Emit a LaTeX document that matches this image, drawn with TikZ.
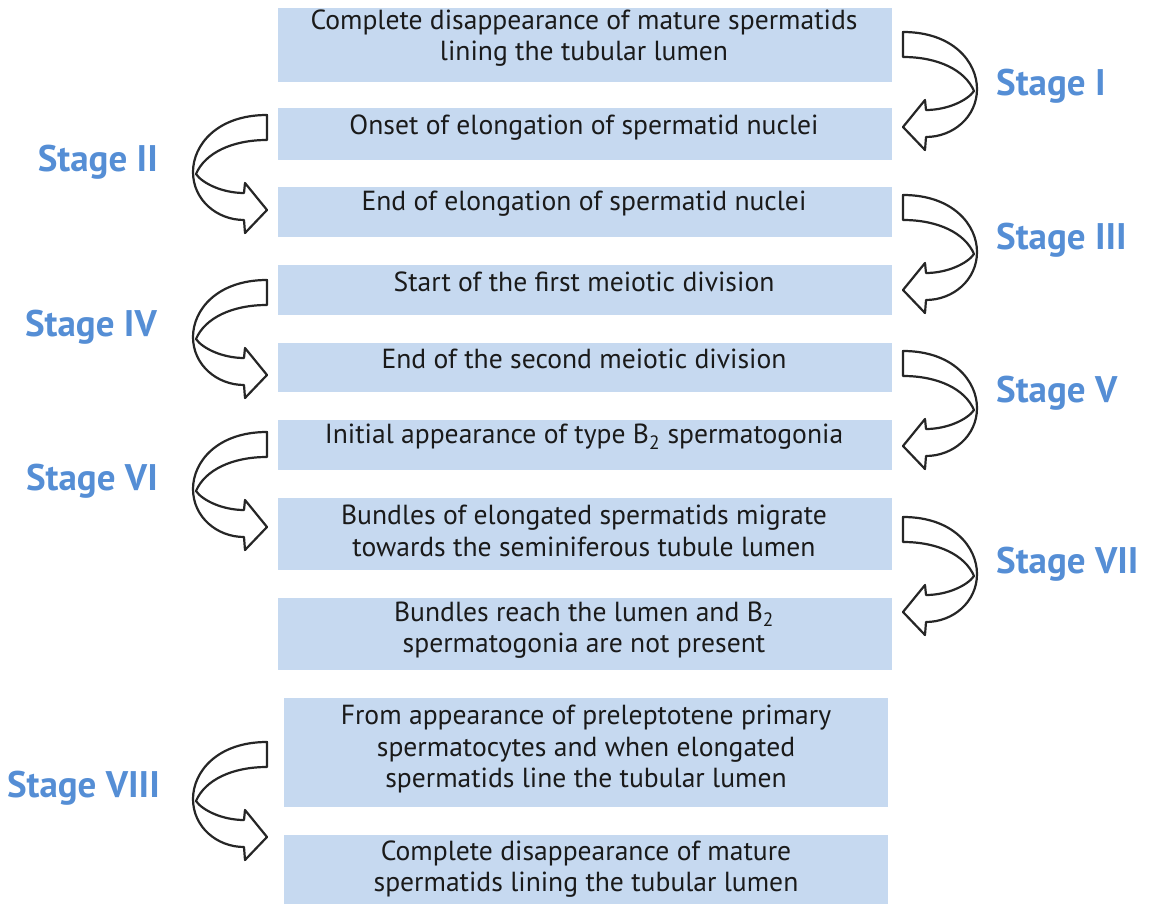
\documentclass[tikz,border=0pt]{standalone}
\usepackage{fontspec}
\setmainfont{PT Sans}
\usetikzlibrary{calc}
\definecolor{boxblue}{HTML}{C6D9F0}
\definecolor{stageblue}{HTML}{558ED5}
\definecolor{textdark}{HTML}{1A1A1A}
\tikzset{
  box/.style={fill=boxblue, draw=none, inner sep=0pt, anchor=north west},
  txt/.style={font=\fontsize{27.6}{31.5}\selectfont, text=textdark, align=center, inner sep=0pt},
  stagelbl/.style={font=\bfseries\fontsize{37}{37}\selectfont, text=stageblue, inner sep=0pt, text height=0.7em, text depth=0pt},
  arrline/.style={draw=black!85, line width=2.2pt, fill=white, line join=round},
  curvarr/.pic={
    \draw[arrline] (0,0) .. controls (50,0) and (74,30) .. (74,57)
      .. controls (74,85) and (50,105) .. (23,105) -- (22,118) -- (0,95) -- (22,68) -- (23,78)
      .. controls (45,78) and (65,68) .. (71,59)
      .. controls (62,38) and (35,25) .. (0,25) -- cycle;
  }
}
\begin{document}
\begin{tikzpicture}[x=1pt,y=-1pt]
\useasboundingbox (0,0) rectangle (1149,904);
% boxes
\node[box, minimum width=614pt, minimum height=74pt] (b1) at (278,8) {};
\node[box, minimum width=614pt, minimum height=52pt] (b2) at (278,108) {};
\node[box, minimum width=614pt, minimum height=50pt] (b3) at (278,187) {};
\node[box, minimum width=614pt, minimum height=50pt] (b4) at (278,265) {};
\node[box, minimum width=614pt, minimum height=49pt] (b5) at (278,343) {};
\node[box, minimum width=614pt, minimum height=50pt] (b6) at (278,420) {};
\node[box, minimum width=614pt, minimum height=72pt] (b7) at (278,498) {};
\node[box, minimum width=614pt, minimum height=72pt] (b8) at (278,598) {};
\node[box, minimum width=604pt, minimum height=109pt] (b9) at (284,698) {};
\node[box, minimum width=604pt, minimum height=70pt] (b10) at (284,835) {};
% texts
\node[txt] (t1) at (584,38) {Complete disappearance of mature spermatids\\lining the tubular lumen};
\node[txt] (t2) at (584,128) {Onset of elongation of spermatid nuclei};
\node[txt] (t3) at (584,204) {End of elongation of spermatid nuclei};
\node[txt] (t4) at (584,282) {Start of the first meiotic division};
\node[txt] (t5) at (584,359) {End of the second meiotic division};
\node[txt] (t6) at (584,437) {Initial appearance of type B\textsubscript{2} spermatogonia};
\node[txt] (t7) at (584,531) {Bundles of elongated spermatids migrate\\towards the seminiferous tubule lumen};
\node[txt] (t8) at (584,630) {Bundles reach the lumen and B\textsubscript{2}\\spermatogonia are not present};
\node[txt] (t9) at (586,749) {From appearance of preleptotene primary\\spermatocytes and when elongated\\spermatids line the tubular lumen};
\node[txt] (t10) at (586,869) {Complete disappearance of mature\\spermatids lining the tubular lumen};
% curved arrows
\pic at (903,32) {curvarr};
\pic at (903,195) {curvarr};
\pic at (903,351) {curvarr};
\pic at (903,517) {curvarr};
\pic[xscale=-1] at (267,115) {curvarr};
\pic[xscale=-1] at (267,280) {curvarr};
\pic[xscale=-1] at (267,432) {curvarr};
\pic[xscale=-1] at (267,742) {curvarr};
% stage labels
\node[stagelbl, anchor=west] (s1) at (996,92) {Stage I};
\node[stagelbl, anchor=east] (s2) at (158,168) {Stage II};
\node[stagelbl, anchor=west] (s3) at (996,246) {Stage III};
\node[stagelbl, anchor=east] (s4) at (157,333) {Stage IV};
\node[stagelbl, anchor=west] (s5) at (996,399) {Stage V};
\node[stagelbl, anchor=east] (s6) at (158,487) {Stage VI};
\node[stagelbl, anchor=west] (s7) at (996,570) {Stage VII};
\node[stagelbl, anchor=east] (s8) at (160,794) {Stage VIII};
\end{tikzpicture}
\end{document}
